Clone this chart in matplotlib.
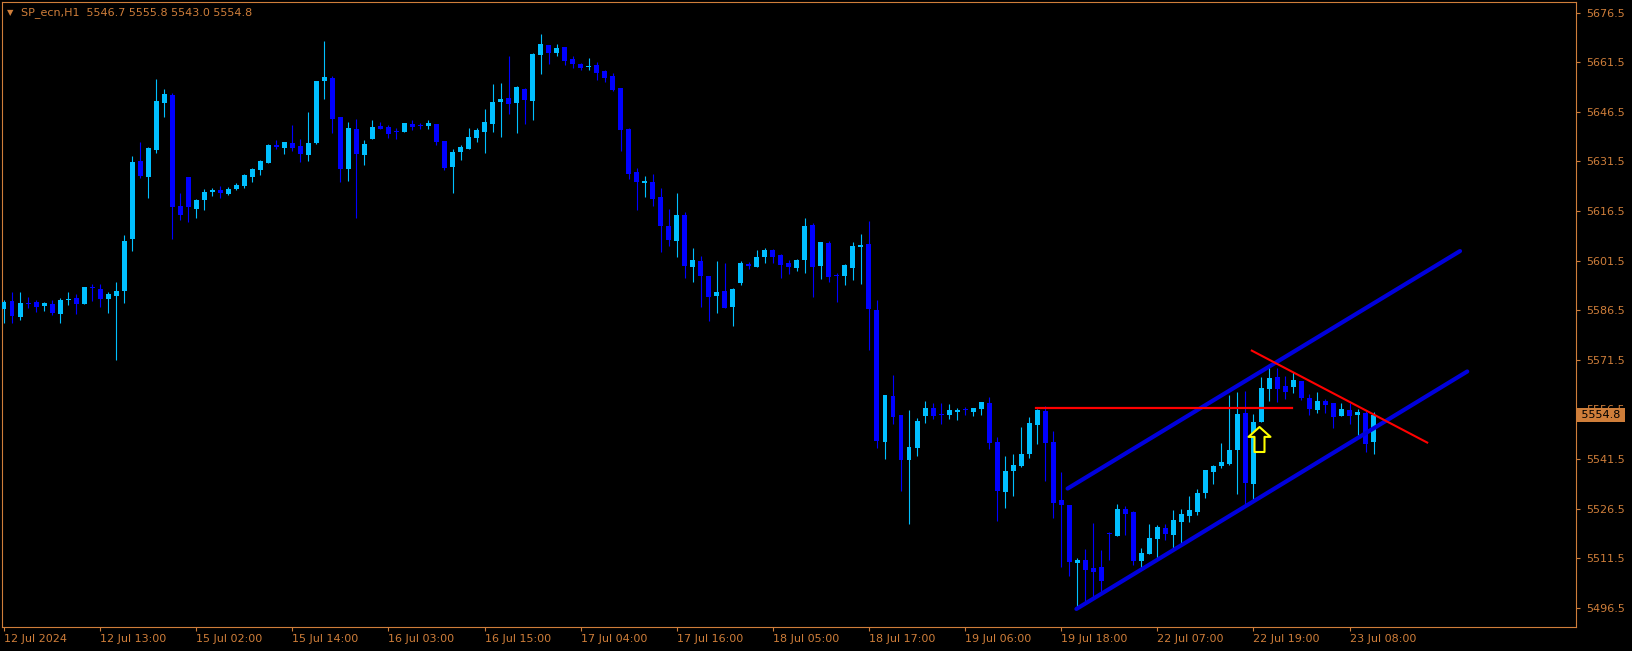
import numpy as np
import matplotlib
matplotlib.use("Agg")
import matplotlib.pyplot as plt
import matplotlib.transforms as mtransforms
from matplotlib.path import Path

# data to plot (SP_ecn, H1)
opens = [5586.9, 5589.3, 5584.6, 5588.7, 5588.9, 5587.9, 5588.4, 5585.5, 5589.7, 5590.2,
         5588.5, 5593.3, 5592.9, 5590.0, 5590.9, 5592.3, 5608.0, 5631.5, 5626.9, 5635.0,
         5649.2, 5651.6, 5617.9, 5626.8, 5617.2, 5619.9, 5622.3, 5622.8, 5621.7, 5623.2,
         5624.2, 5626.9, 5628.8, 5631.1, 5636.5, 5635.6, 5637.0, 5636.1, 5633.5, 5637.2,
         5655.9, 5656.7, 5644.9, 5629.3, 5641.3, 5633.5, 5638.4, 5642.2, 5641.9, 5640.6,
         5640.5, 5642.8, 5642.3, 5642.3, 5642.8, 5637.7, 5629.9, 5634.4, 5635.3, 5638.7,
         5640.5, 5642.9, 5649.5, 5650.7, 5649.2, 5653.4, 5649.9, 5663.8, 5666.7, 5664.4,
         5666.1, 5662.4, 5660.9, 5660.0, 5660.6, 5658.8, 5657.3, 5653.7, 5641.3, 5628.3,
         5625.1, 5625.3, 5620.7, 5612.0, 5607.5, 5615.3, 5599.7, 5601.4, 5596.8, 5590.9,
         5592.3, 5587.6, 5594.8, 5600.5, 5599.7, 5602.7, 5604.7, 5603.2, 5600.8, 5599.4,
         5601.8, 5612.3, 5600.0, 5606.8, 5597.1, 5596.9, 5599.4, 5605.7, 5606.5, 5586.6,
         5546.8, 5560.6, 5554.8, 5541.3, 5545.0, 5554.6, 5556.9, 5555.1, 5554.9, 5555.8,
         5556.6, 5555.8, 5556.7, 5558.5, 5546.7, 5531.6, 5538.0, 5539.5, 5543.1, 5551.9,
         5556.0, 5546.7, 5529.1, 5527.6, 5510.2, 5511.0, 5508.6, 5508.9, 5519.1, 5518.2,
         5526.4, 5525.5, 5510.7, 5512.8, 5517.3, 5520.7, 5518.6, 5522.5, 5524.3, 5525.5,
         5531.2, 5537.6, 5539.4, 5540.0, 5544.2, 5555.4, 5534.0, 5552.7, 5562.7, 5566.3,
         5563.6, 5563.3, 5565.1, 5560.0, 5556.3, 5559.1, 5558.5, 5554.5, 5556.3, 5554.8,
         5555.4, 5546.7]
highs = [5589.6, 5592.0, 5592.0, 5590.6, 5589.6, 5589.1, 5589.6, 5590.3, 5591.9, 5591.4,
         5593.6, 5594.4, 5594.4, 5592.0, 5594.9, 5609.4, 5633.1, 5637.4, 5635.9, 5656.4,
         5653.4, 5652.2, 5621.9, 5626.8, 5620.1, 5623.1, 5623.5, 5624.2, 5623.8, 5625.0,
         5627.8, 5629.5, 5631.9, 5636.8, 5638.0, 5637.4, 5642.5, 5638.3, 5646.4, 5655.8,
         5667.9, 5657.3, 5644.9, 5643.4, 5644.3, 5638.0, 5644.0, 5643.4, 5642.5, 5641.6,
         5643.1, 5644.0, 5643.1, 5644.0, 5642.8, 5637.7, 5635.2, 5636.4, 5641.6, 5641.6,
         5647.3, 5654.9, 5655.2, 5663.4, 5654.3, 5653.7, 5664.3, 5670.0, 5666.7, 5667.0,
         5666.1, 5663.4, 5661.2, 5662.7, 5661.5, 5659.1, 5658.2, 5653.7, 5641.6, 5629.5,
         5627.1, 5627.7, 5623.5, 5617.1, 5621.9, 5616.2, 5605.3, 5602.9, 5596.8, 5601.4,
         5600.8, 5593.2, 5601.4, 5601.1, 5604.7, 5605.3, 5605.0, 5603.5, 5601.7, 5602.0,
         5614.4, 5612.9, 5607.1, 5607.4, 5597.9, 5600.5, 5607.1, 5609.5, 5613.5, 5589.6,
         5560.9, 5566.9, 5554.8, 5556.3, 5553.9, 5559.1, 5558.5, 5558.5, 5558.2, 5556.9,
         5557.3, 5556.9, 5558.8, 5560.3, 5548.2, 5542.4, 5543.0, 5551.2, 5554.2, 5556.6,
         5557.6, 5550.0, 5537.6, 5527.6, 5511.6, 5514.3, 5522.3, 5514.1, 5519.6, 5527.9,
         5527.3, 5525.8, 5514.6, 5521.9, 5521.6, 5521.9, 5526.1, 5526.4, 5530.3, 5532.5,
         5538.2, 5539.7, 5546.4, 5560.9, 5561.8, 5562.1, 5555.1, 5566.3, 5570.2, 5569.0,
         5566.6, 5567.8, 5565.1, 5561.2, 5561.8, 5559.7, 5558.5, 5558.5, 5558.5, 5556.6,
         5556.0, 5555.8]
lows = [5582.5, 5582.7, 5583.5, 5587.1, 5586.1, 5586.4, 5585.2, 5582.5, 5588.2, 5585.5,
        5588.4, 5589.4, 5587.4, 5585.6, 5571.5, 5588.8, 5604.5, 5626.6, 5620.5, 5634.1,
        5644.9, 5607.9, 5613.9, 5613.3, 5614.5, 5616.9, 5621.1, 5620.5, 5621.3, 5622.8,
        5623.5, 5625.4, 5627.5, 5631.1, 5635.2, 5633.8, 5634.7, 5631.4, 5631.7, 5636.9,
        5650.5, 5640.2, 5625.4, 5625.7, 5614.5, 5630.5, 5638.4, 5641.4, 5638.7, 5638.4,
        5640.5, 5641.1, 5641.2, 5641.3, 5636.5, 5629.0, 5622.0, 5632.0, 5635.3, 5637.5,
        5634.1, 5640.5, 5639.0, 5645.9, 5640.2, 5642.9, 5644.1, 5658.0, 5661.0, 5663.5,
        5660.7, 5659.8, 5659.2, 5659.2, 5656.2, 5655.6, 5652.9, 5634.7, 5626.3, 5616.9,
        5620.8, 5618.1, 5604.2, 5606.0, 5602.7, 5596.3, 5595.1, 5587.6, 5583.3, 5585.8,
        5587.3, 5581.8, 5594.2, 5599.1, 5599.7, 5600.9, 5600.9, 5596.3, 5597.6, 5598.5,
        5597.9, 5590.6, 5596.0, 5595.1, 5589.1, 5594.2, 5595.7, 5594.5, 5574.6, 5545.0,
        5541.6, 5552.2, 5531.9, 5522.0, 5542.5, 5552.5, 5553.7, 5552.2, 5553.7, 5553.4,
        5554.9, 5554.6, 5554.9, 5544.6, 5522.9, 5526.8, 5530.4, 5539.2, 5541.9, 5546.2,
        5535.0, 5523.8, 5509.0, 5506.3, 5496.6, 5497.8, 5499.3, 5500.8, 5511.1, 5518.2,
        5518.5, 5509.5, 5508.3, 5512.8, 5511.6, 5517.0, 5514.0, 5515.5, 5522.5, 5524.6,
        5529.7, 5534.0, 5538.8, 5539.7, 5530.9, 5527.3, 5529.4, 5552.7, 5559.1, 5558.8,
        5559.7, 5561.5, 5559.4, 5554.8, 5555.4, 5555.4, 5550.9, 5554.5, 5552.1, 5547.9,
        5543.6, 5543.0]
closes = [5589.1, 5584.9, 5588.7, 5588.4, 5587.5, 5588.7, 5585.8, 5589.6, 5589.9, 5588.5,
          5593.5, 5593.1, 5589.8, 5591.4, 5592.3, 5607.4, 5631.3, 5627.2, 5635.5, 5649.7,
          5651.9, 5617.6, 5615.4, 5617.6, 5619.8, 5622.2, 5622.8, 5621.9, 5623.1, 5624.4,
          5627.4, 5629.2, 5631.6, 5636.4, 5635.9, 5637.4, 5635.7, 5633.8, 5637.1, 5655.8,
          5657.0, 5644.4, 5629.1, 5641.6, 5633.8, 5636.8, 5641.9, 5641.4, 5639.9, 5640.4,
          5643.1, 5641.9, 5642.1, 5643.1, 5637.5, 5629.6, 5634.3, 5635.8, 5638.9, 5641.0,
          5643.4, 5649.4, 5650.3, 5648.9, 5654.0, 5650.2, 5664.0, 5667.0, 5664.3, 5665.8,
          5661.8, 5661.0, 5659.8, 5660.3, 5658.2, 5656.8, 5653.2, 5641.1, 5627.8, 5625.4,
          5625.6, 5620.1, 5612.1, 5607.8, 5615.3, 5600.0, 5601.7, 5596.9, 5590.6, 5592.0,
          5587.3, 5592.9, 5600.8, 5600.0, 5602.6, 5604.7, 5602.7, 5600.3, 5599.7, 5601.7,
          5612.0, 5599.7, 5607.1, 5596.6, 5596.9, 5600.2, 5605.9, 5606.2, 5587.0, 5547.1,
          5560.9, 5554.3, 5541.3, 5545.2, 5553.0, 5556.9, 5554.6, 5554.8, 5556.3, 5556.4,
          5556.3, 5556.9, 5558.8, 5546.5, 5531.9, 5537.9, 5539.7, 5543.0, 5552.4, 5556.3,
          5546.5, 5528.3, 5527.7, 5510.5, 5511.0, 5508.1, 5507.5, 5504.7, 5518.8, 5526.4,
          5524.9, 5510.7, 5513.1, 5517.6, 5521.0, 5518.9, 5523.1, 5524.9, 5526.1, 5531.2,
          5538.2, 5539.4, 5540.6, 5544.2, 5555.1, 5534.3, 5552.7, 5563.0, 5566.0, 5562.7,
          5561.8, 5565.4, 5560.0, 5556.6, 5559.1, 5557.9, 5554.2, 5556.6, 5554.5, 5555.7,
          5546.1, 5554.8]

time_labels = ['12 Jul 2024', '12 Jul 13:00', '15 Jul 02:00', '15 Jul 14:00',
               '16 Jul 03:00', '16 Jul 15:00', '17 Jul 04:00', '17 Jul 16:00',
               '18 Jul 05:00', '18 Jul 17:00', '19 Jul 06:00', '19 Jul 18:00',
               '22 Jul 07:00', '22 Jul 19:00', '23 Jul 08:00']
label_step = 12
price_ticks = [5496.5, 5511.5, 5526.5, 5541.5, 5556.5, 5571.5, 5586.5,
               5601.5, 5616.5, 5631.5, 5646.5, 5661.5, 5676.5]

# drawn objects: (bar index, price) pairs
channel_upper = ([132.8, 181.8], [5532.6, 5604.4])
channel_lower = ([133.9, 182.7], [5496.2, 5568.0])
red_level = ([128.9, 160.8], [5557.0, 5557.0])
red_trend = ([155.8, 177.7], [5574.3, 5546.5])
buy_arrow = (156.7, 5547.7)

orange = '#CF7E3A'
bull_col = '#00BFFF'
bear_col = '#0000FF'

fig = plt.figure(figsize=(16.33, 6.51), dpi=100, facecolor='black')
ax = fig.add_axes([2 / 1633, 24 / 651, 1574 / 1633, 625 / 651], facecolor='black')

o = np.array(opens)
h = np.array(highs)
l = np.array(lows)
c = np.array(closes)
idx = np.arange(len(o))
up = c >= o
cols = np.where(up, bull_col, bear_col)

# wicks then bodies
ax.vlines(idx, l, h, colors=cols, linewidth=0.8, zorder=2)
body_lo = np.minimum(o, c)
body_h = np.maximum(np.abs(c - o), 0.3)
ax.bar(idx, body_h, width=0.62, bottom=body_lo, color=cols, linewidth=0, zorder=3)

# channel + red lines
ax.plot(*channel_upper, color='#0000DC', lw=3.0, solid_capstyle='round', zorder=4)
ax.plot(*channel_lower, color='#0000DC', lw=3.0, solid_capstyle='round', zorder=4)
ax.plot(*red_level, color='#FF0000', lw=1.6, zorder=4)
ax.plot(*red_trend, color='#FF0000', lw=1.5, zorder=4)

# buy arrow (outline up-arrow)
arrow_path = Path([(0, 1), (0.88, 0.21), (0.4, 0.21), (0.4, -1), (-0.4, -1),
                   (-0.4, 0.21), (-0.88, 0.21), (0, 1)], closed=True)
ax.plot([buy_arrow[0]], [buy_arrow[1]], marker=arrow_path, markersize=18,
        markerfacecolor='black', markeredgecolor='#FFFF00', markeredgewidth=1.5,
        linestyle='none', zorder=6)

ax.set_xlim(-0.25, 196.28)
ax.set_ylim(5490.74, 5679.7)

for s in ax.spines.values():
    s.set_color(orange)
    s.set_linewidth(0.8)

ax.yaxis.tick_right()
ax.set_yticks(price_ticks)
ax.set_yticklabels(['%.1f' % p for p in price_ticks])
ax.set_xticks(np.arange(len(time_labels)) * label_step)
ax.set_xticklabels(time_labels)
plt.setp(ax.get_xticklabels(), ha='left')
ax.tick_params(axis='y', colors=orange, length=3, width=0.8, pad=4, labelsize=8)
ax.tick_params(axis='x', colors=orange, length=3, width=0.8, pad=2, labelsize=8)

# current price label
trans = mtransforms.blended_transform_factory(ax.transAxes, ax.transData)
ax.annotate(' %.1f ' % closes[-1], xy=(1, closes[-1]), xycoords=trans,
            xytext=(1.2, 0), textcoords='offset points', ha='left', va='center',
            fontsize=8, color='black', annotation_clip=False, zorder=20,
            bbox=dict(boxstyle='square,pad=0.15', fc=orange, ec='none'))

# header
fig.text(10.5 / 1633, 1 - 12.5 / 651, '\u25bc', color=orange, fontsize=6,
         ha='center', va='center')
fig.text(21.5 / 1633, 1 - 12.7 / 651,
         'SP_ecn,H1  %.1f %.1f %.1f %.1f' % (opens[-1], highs[-1], lows[-1], closes[-1]),
         color=orange, fontsize=8, ha='left', va='center')

fig.savefig('out.png', dpi=100, facecolor='black')
